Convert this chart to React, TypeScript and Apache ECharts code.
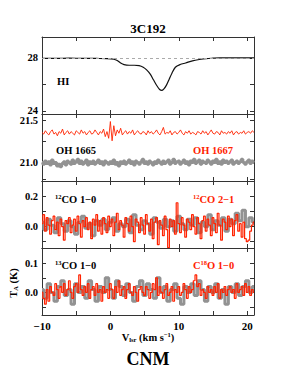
import React, { useEffect, useRef } from "react";
import * as echarts from "echarts";

// ---------- data ----------
const V_START = -10;
const V_MIN = -10;
const V_MAX = 21;
const xTicks = [-10, -5, 0, 5, 10, 15, 20];
const xLabels = [-10, 0, 10, 20];

// HI emission profile (km/s, K)
const hiV = [-10, -8, -6, -4, -2, -0.5, 0.5, 1.0, 1.5, 2.0, 2.75, 3.5, 4.2, 4.8, 5.3, 5.8, 6.3, 6.8, 7.2, 7.5, 7.8, 8.2, 8.6, 9.0, 9.5, 10.2, 11.0, 12.0, 13.0, 14.0, 15.0, 16, 18, 20, 21];
const hiT = [27.97, 27.96, 27.98, 27.97, 27.96, 27.95, 27.9, 27.8, 27.62, 27.5, 27.45, 27.45, 27.42, 27.3, 27.1, 26.8, 26.35, 25.9, 25.62, 25.55, 25.65, 25.95, 26.4, 26.85, 27.3, 27.5, 27.62, 27.78, 27.88, 27.95, 27.98, 28.0, 28.0, 28.0, 28.0];
const hiRef = 28;

// OH 1667 (red), channel 0.25 km/s from -10
const ohStep = 0.25;
const oh1667 = [
  21.36, 21.34, 21.38, 21.35, 21.33, 21.37, 21.39, 21.34, 21.36, 21.32,
  21.37, 21.35, 21.40, 21.33, 21.36, 21.38, 21.34, 21.37, 21.35, 21.33,
  21.38, 21.36, 21.34, 21.39, 21.35, 21.37, 21.33, 21.36, 21.38, 21.34,
  21.35, 21.39, 21.36, 21.33, 21.37, 21.35, 21.40, 21.31, 21.37, 21.29,
  21.49, 21.26, 21.44, 21.32, 21.39, 21.35, 21.41, 21.33, 21.36, 21.38,
  21.34, 21.37, 21.35, 21.39, 21.33, 21.36, 21.38, 21.35, 21.34, 21.37,
  21.36, 21.33, 21.38, 21.35, 21.37, 21.34, 21.36, 21.39, 21.35, 21.33,
  21.37, 21.42, 21.34, 21.36, 21.35, 21.38, 21.33, 21.36, 21.37, 21.34,
  21.36, 21.39, 21.35, 21.33, 21.37, 21.35, 21.38, 21.34, 21.36, 21.35,
  21.33, 21.37, 21.36, 21.34, 21.38, 21.35, 21.37, 21.33, 21.36, 21.39,
  21.35, 21.34, 21.37, 21.36, 21.33, 21.38, 21.35, 21.36, 21.34, 21.37,
  21.35, 21.38, 21.33, 21.36, 21.37, 21.34, 21.36, 21.35, 21.38, 21.34,
  21.36, 21.37, 21.35, 21.38, 21.36,
];
// OH 1665 (grey)
const oh1665 = [
  21.00, 20.98, 21.02, 20.99, 21.01, 20.97, 21.03, 20.99, 21.00, 20.96,
  20.98, 20.95, 20.99, 21.01, 20.97, 21.02, 21.00, 20.98, 21.03, 20.99,
  21.01, 21.04, 20.99, 21.02, 20.98, 21.00, 21.03, 20.97, 21.01, 20.99,
  21.02, 20.98, 21.00, 21.03, 20.99, 21.01, 20.97, 21.02, 21.00, 20.98,
  21.01, 20.99, 21.03, 20.98, 21.00, 20.96, 21.01, 20.99, 21.02, 20.98,
  21.00, 21.03, 20.99, 21.01, 20.97, 21.02, 21.00, 20.98, 21.01, 21.04,
  20.99, 21.01, 20.98, 21.02, 21.00, 20.97, 21.01, 20.99, 21.03, 21.00,
  20.98, 21.02, 20.99, 21.01, 21.03, 20.98, 21.00, 21.04, 20.99, 21.01,
  21.02, 20.98, 21.00, 21.03, 20.99, 21.01, 20.97, 21.02, 21.00, 21.04,
  20.99, 21.01, 21.03, 20.98, 21.02, 21.00, 20.99, 21.03, 21.01, 20.98,
  21.02, 21.00, 21.04, 20.99, 21.01, 20.98, 21.03, 21.00, 21.02, 20.99,
  21.01, 21.03, 20.98, 21.00, 21.02, 20.99, 21.01, 21.04, 21.00, 20.98,
  21.01, 21.03, 20.99, 21.02, 21.00,
];

// 12CO 1-0 (grey), channel 0.5 km/s
const coGreyStep = 0.5;
const co10 = [
  0.03, -0.02, 0.05, 0.01, -0.04, 0.06, 0.02, -0.03, 0.04, 0.00,
  -0.05, 0.03, 0.07, -0.01, 0.02, -0.06, 0.04, 0.01, 0.05, -0.02,
  0.03, 0.06, -0.03, 0.02, 0.00, 0.05, -0.04, 0.08, 0.01, -0.02,
  0.04, 0.02, -0.05, 0.06, 0.03, -0.01, 0.05, 0.00, 0.04, -0.03,
  0.07, 0.02, -0.02, 0.05, 0.01, 0.06, -0.04, 0.03, 0.00, 0.08,
  -0.02, 0.04, 0.01, 0.06, -0.03, 0.05, 0.02, 0.09, 0.04, 0.11,
  0.00, 0.06, 0.03,
];
// 12CO 2-1 (red), channel 0.25 km/s
const coRedStep = 0.25;
const co21 = [
  0.02, 0.08, -0.03, 0.06, 0.01, -0.05, 0.04, 0.07, -0.02, 0.03,
  -0.06, 0.05, 0.00, -0.09, 0.04, 0.02, 0.06, -0.04, 0.01, 0.05,
  -0.03, 0.07, 0.02, -0.07, 0.04, 0.00, 0.06, -0.02, 0.03, -0.08,
  0.05, 0.01, 0.08, -0.03, 0.04, -0.05, 0.06, 0.02, -0.04, 0.07,
  0.00, 0.05, -0.06, 0.03, 0.09, -0.02, 0.04, 0.01, -0.07, 0.06,
  0.02, -0.03, 0.07, 0.00, -0.10, 0.05, 0.03, -0.04, 0.06, 0.01,
  -0.05, 0.08, 0.02, -0.03, 0.05, -0.08, 0.03, 0.06, -0.12, 0.04,
  0.01, -0.06, 0.07, -0.02, -0.14, 0.05, 0.00, 0.04, -0.05, 0.16,
  0.02, -0.04, 0.06, 0.01, -0.07, 0.05, 0.03, -0.02, 0.08, 0.00,
  -0.05, 0.06, 0.02, -0.08, 0.04, 0.07, -0.03, 0.05, 0.01, -0.06,
  0.06, 0.02, -0.04, 0.09, 0.01, -0.09, 0.05, 0.03, -0.02, 0.07,
  0.00, 0.05, -0.06, 0.04, 0.08, -0.03, 0.02, -0.07, 0.03, -0.08,
  -0.10, -0.09, -0.03, 0.01, 0.03,
];
// 13CO 1-0 (grey), channel 0.5 km/s
const co13 = [
  0.01, -0.02, 0.03, 0.00, -0.03, 0.02, 0.04, -0.01, 0.01, -0.04,
  0.03, 0.00, 0.02, -0.02, 0.04, 0.01, -0.03, 0.02, 0.00, 0.05,
  0.01, -0.02, 0.04, 0.02, -0.01, 0.03, 0.00, -0.03, 0.02, 0.04,
  -0.01, 0.03, 0.01, -0.02, 0.05, 0.00, 0.02, -0.03, 0.01, 0.03,
  -0.02, -0.04, 0.02, 0.00, 0.03, -0.01, 0.04, 0.01, -0.03, 0.02,
  0.00, 0.03, -0.02, 0.01, -0.04, 0.02, 0.00, 0.03, -0.01, 0.02,
  0.04, 0.00, 0.02,
];
// C18O 1-0 (red), channel 0.25 km/s
const c18o = [
  0.00, -0.02, -0.04, 0.01, -0.03, 0.02, 0.00, -0.01, 0.03, 0.01,
  -0.02, 0.02, 0.00, 0.03, -0.01, 0.01, 0.04, 0.00, -0.02, 0.02,
  0.03, 0.00, 0.06, 0.01, -0.01, 0.02, 0.00, 0.03, -0.02, 0.01,
  0.02, -0.01, 0.03, 0.00, 0.01, -0.03, 0.02, 0.00, 0.01, -0.02,
  0.03, 0.01, -0.02, 0.02, 0.00, 0.04, -0.01, 0.01, 0.02, -0.02,
  0.01, 0.03, 0.00, -0.01, 0.02, 0.00, -0.03, 0.01, 0.02, 0.00,
  -0.01, 0.02, 0.01, -0.02, 0.00, 0.03, 0.01, 0.05, -0.01, 0.02,
  0.00, -0.02, 0.01, 0.03, -0.01, 0.00, 0.02, -0.03, 0.01, 0.00,
  0.02, -0.01, 0.00, 0.03, 0.01, -0.02, 0.02, 0.00, 0.01, 0.04,
  0.06, 0.02, 0.03, -0.01, 0.01, 0.00, -0.02, 0.02, 0.00, 0.01,
  -0.01, 0.02, 0.00, 0.03, -0.02, 0.01, 0.00, 0.02, -0.01, 0.01,
  0.02, 0.00, 0.01, -0.02, 0.03, 0.00, 0.01, 0.02, -0.01, 0.03,
  0.00, 0.02, -0.01, 0.01, 0.00,
];

// y-axis ranges & ticks per panel
const yRanges = [
  [23.77, 29.58],
  [20.78, 21.58],
  [-0.142, 0.305],
  [-0.077, 0.152],
];
const yTicks = [
  [24, 26, 28],
  [20.8, 21.0, 21.25, 21.5],
  [-0.1, 0, 0.1, 0.2],
  [-0.05, 0, 0.05, 0.1],
];
const yLabels = [
  [24, 28],
  [21.0, 21.5],
  [0, 0.2],
  [0, 0.1],
];
const yLabelDigits = [0, 1, 1, 1];

// ---------- style ----------
const RED = "#ff2200";
const GREY = "#929292";
const FONT = "Liberation Serif";
const AXIS = "#333";
const grids = [
  { top: 37, height: 77 },
  { top: 114, height: 67 },
  { top: 181, height: 67 },
  { top: 248, height: 67 },
];

const chan = (vals: number[], step: number) =>
  vals.map((v, i) => [V_START + i * step, v]);

const fmtNum = (v: number, d: number) => {
  const s = Math.abs(v).toFixed(d);
  return v < 0 ? "\u2212" + s : s;
};

export default function App() {
  const ref = useRef<HTMLDivElement>(null);
  useEffect(() => {
    if (!ref.current) return;
    const chart = echarts.init(ref.current, undefined, { renderer: "svg" });

    const gridOpts = grids.map((g) => ({
      left: 42,
      right: 29,
      top: g.top,
      height: g.height,
      containLabel: false,
    }));

    const xAxes: any[] = [];
    const yAxes: any[] = [];
    grids.forEach((_, i) => {
      const base = {
        gridIndex: i,
        type: "value",
        min: V_MIN,
        max: V_MAX,
        splitLine: { show: false },
        axisLine: { show: true, onZero: false, lineStyle: { color: AXIS, width: 1 } },
        axisTick: {
          show: true,
          inside: true,
          length: 4,
          customValues: xTicks,
          lineStyle: { color: AXIS },
        },
      };
      xAxes.push({
        ...base,
        position: "bottom",
        axisLabel: {
          show: i === 3,
          customValues: xLabels,
          formatter: (v: number) => fmtNum(v, 0),
          fontFamily: FONT,
          fontWeight: "bold",
          fontSize: 11,
          color: "#000",
          margin: 5,
        },
      });
      xAxes.push({ ...base, position: "top", axisLabel: { show: false } });

      const ybase = {
        gridIndex: i,
        type: "value",
        min: yRanges[i][0],
        max: yRanges[i][1],
        splitLine: { show: false },
        axisLine: { show: true, onZero: false, lineStyle: { color: AXIS, width: 1 } },
        axisTick: {
          show: true,
          inside: true,
          length: 4,
          customValues: yTicks[i],
          lineStyle: { color: AXIS },
        },
      };
      yAxes.push({
        ...ybase,
        position: "left",
        axisLabel: {
          show: true,
          customValues: yLabels[i],
          formatter: (v: number) => fmtNum(v, yLabelDigits[i]),
          fontFamily: FONT,
          fontWeight: "bold",
          fontSize: 10.5,
          color: "#000",
          margin: 4,
        },
      });
      yAxes.push({ ...ybase, position: "right", axisLabel: { show: false } });
    });

    const line = (
      gi: number,
      data: number[][],
      color: string,
      width: number,
      step: boolean,
      extra: any = {}
    ) => ({
      type: "line",
      xAxisIndex: gi * 2,
      yAxisIndex: gi * 2,
      data,
      symbol: "none",
      showSymbol: false,
      step: step ? "middle" : false,
      clip: true,
      lineStyle: { color, width },
      silent: true,
      ...extra,
    });

    const series = [
      line(0, hiV.map((v, i) => [v, hiT[i]]), "#111", 1.2, false, {
        smooth: 0.3,
        markLine: {
          silent: true,
          symbol: ["none", "none"],
          label: { show: false },
          lineStyle: { color: "#aaa", type: [3, 3], width: 1 },
          data: [{ yAxis: hiRef }],
        },
      }),
      line(1, chan(oh1665, ohStep), GREY, 3, true),
      line(1, chan(oh1667, ohStep), RED, 0.9, false),
      line(2, chan(co10, coGreyStep), GREY, 3, true),
      line(2, chan(co21, coRedStep), RED, 1.2, true),
      line(3, chan(co13, coGreyStep), GREY, 3, true),
      line(3, chan(c18o, coRedStep), RED, 1.2, true),
    ];

    const rich = (color: string) => ({
      b: { fontFamily: FONT, fontWeight: "bold", fontSize: 10.5, fill: color, lineHeight: 12, verticalAlign: "bottom" },
      s: { fontFamily: FONT, fontWeight: "bold", fontSize: 6.5, fill: color, lineHeight: 12, verticalAlign: "top" },
      d: { fontFamily: FONT, fontWeight: "bold", fontSize: 6.5, fill: color, lineHeight: 12, verticalAlign: "bottom" },
    });

    const label = (text: string, x: number, y: number, color: string) => ({
      type: "text",
      x,
      y,
      silent: true,
      style: {
        text,
        rich: rich(color),
        align: "left",
        verticalAlign: "middle",
        textAlign: "left",
        textVerticalAlign: "middle",
        fill: color,
        font: `bold 10.5px "${FONT}"`,
      },
    });

    const graphic: any[] = [
      {
        type: "text",
        x: 148,
        y: 28,
        silent: true,
        style: {
          text: "3C192",
          font: `bold 13px "${FONT}"`,
          fill: "#000",
          align: "center",
          verticalAlign: "middle",
          textAlign: "center",
          textVerticalAlign: "middle",
        },
      },
      label("{b|HI}", 57, 81, "#000"),
      label("{b|OH 1665}", 56, 150, "#000"),
      label("{b|OH 1667}", 193, 150, RED),
      label("{s|12}{b|CO 1\u22120}", 55, 199, "#000"),
      label("{s|12}{b|CO 2\u22121}", 193, 199, RED),
      label("{s|13}{b|CO 1\u22120}", 55, 265, "#000"),
      label("{b|C}{s|18}{b|O 1\u22120}", 193, 265, RED),
      {
        type: "text",
        x: 148,
        y: 337,
        silent: true,
        style: {
          text: "{b|V}{d|lsr}{b| (km s}{s|\u22121}{b|)}",
          rich: rich("#000"),
          align: "center",
          verticalAlign: "middle",
          textAlign: "center",
          textVerticalAlign: "middle",
        },
      },
      {
        type: "text",
        x: 13,
        y: 283,
        rotation: Math.PI / 2,
        silent: true,
        style: {
          text: "{b|T}{d|A}{b| (K)}",
          rich: rich("#000"),
          align: "center",
          verticalAlign: "middle",
          textAlign: "center",
          textVerticalAlign: "middle",
        },
      },
      {
        type: "text",
        x: 148,
        y: 359,
        silent: true,
        style: {
          text: "CNM",
          font: `bold 18px "${FONT}"`,
          fill: "#000",
          align: "center",
          verticalAlign: "middle",
          textAlign: "center",
          textVerticalAlign: "middle",
        },
      },
    ];

    chart.setOption({
      animation: false,
      backgroundColor: "#fff",
      grid: gridOpts,
      xAxis: xAxes,
      yAxis: yAxes,
      series,
      graphic,
    });
    return () => chart.dispose();
  }, []);

  return (
    <div
      ref={ref}
      style={{ position: "absolute", left: 0, top: 0, width: 283, height: 371 }}
    />
  );
}
